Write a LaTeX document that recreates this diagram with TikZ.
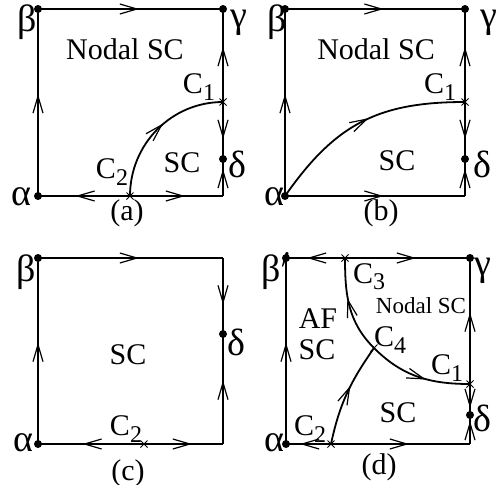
\documentclass[tikz,border=0pt]{standalone}
\usepackage{fontspec}
\setmainfont{Liberation Serif}
\usepackage{tikz}
\usetikzlibrary{arrows.meta, decorations.markings, shapes.misc}

\newcommand{\Cidx}[1]{C\raisebox{-0.45ex}{\fontsize{12}{12}\selectfont #1}}

\begin{document}
\begin{tikzpicture}[x=0.5pt, y=0.5pt, line width=0.9pt,
    dot/.style={circle, fill=black, inner sep=0pt, minimum size=4pt},
    xmark/.style={cross out, draw=black, inner sep=0pt, minimum size=3pt, line width=0.5pt},
    flow/.style={postaction={decorate}, decoration={markings, mark=at position 0.5 with {\arrow[xshift=4.25pt]{Straight Barb[length=8.5pt, width=5pt, line width=0.6pt]}}}},
    lab/.style={inner sep=0pt, font=\fontsize{15}{15}\selectfont},
    greek/.style={inner sep=0pt, font=\fontsize{19}{19}\selectfont},
    small/.style={inner sep=0pt, font=\fontsize{11.5}{11.5}\selectfont}]
    \useasboundingbox (0,0) rectangle (502,484);

    % (a)
    \node[dot] (alA) at (38,288) {};
    \node[dot] (beA) at (38,475) {};
    \node[dot] (gaA) at (223,475) {};
    \node[dot] (deA) at (223,325) {};
    \coordinate (brA) at (223,288);
    \node[xmark] (c1A) at (223,382) {};
    \node[xmark] (c2A) at (130,288) {};
    \draw[flow] (alA.center) -- (beA.center);
    \draw[flow] (beA.center) -- (gaA.center);
    \draw[flow] (c1A.center) -- (gaA.center);
    \draw[flow] (c1A.center) -- (deA.center);
    \draw[flow] (brA) -- (deA.center);
    \draw[flow] (c2A.center) -- (alA.center);
    \draw[flow] (c2A.center) -- (brA);
    \draw[flow] (c2A.center) to[out=90, in=180] (c1A.center);
    \node[greek] (tBeA) at (27,462) {β};
    \node[greek] (tGaA) at (239,461) {γ};
    \node[greek] (tAlA) at (21,287) {α};
    \node[greek] (tDeA) at (237,320) {δ};
    \node[lab] (tNodA) at (125,435) {Nodal SC};
    \node[lab] (tScA) at (182,321) {SC};
    \node[lab] (tC1A) at (199,397) {\Cidx{1}};
    \node[lab] (tC2A) at (112,312) {\Cidx{2}};
    \node[lab] (capA) at (127,271) {(a)};

    % (b)
    \begin{scope}[line width=1.3pt]
    \node[dot] (alB) at (285,288) {};
    \node[dot] (beB) at (285,475) {};
    \node[dot] (gaB) at (465,475) {};
    \node[dot] (deB) at (465,325) {};
    \coordinate (brB) at (465,288);
    \node[xmark] (c1B) at (465,382) {};
    \draw[flow] (alB.center) -- (beB.center);
    \draw[flow] (beB.center) -- (gaB.center);
    \draw[flow] (c1B.center) -- (gaB.center);
    \draw[flow] (c1B.center) -- (deB.center);
    \draw[flow] (brB) -- (deB.center);
    \draw[flow] (alB.center) -- (brB);
    \draw[flow, line width=0.9pt] (alB.center) to[out=55, in=180, looseness=1.1] (c1B.center);
    \end{scope}
    \node[greek] (tBeB) at (277,462) {β};
    \node[greek] (tGaB) at (489,461) {γ};
    \node[greek] (tAlB) at (274,287) {α};
    \node[greek] (tDeB) at (482,320) {δ};
    \node[lab] (tNodB) at (376,435) {Nodal SC};
    \node[lab] (tScB) at (397,323) {SC};
    \node[lab] (tC1B) at (440,397) {\Cidx{1}};
    \node[lab] (capB) at (381,271) {(b)};

    % (c)
    \node[dot] (alC) at (38,40) {};
    \node[dot] (beC) at (38,226) {};
    \node[dot] (deC) at (223,150) {};
    \coordinate (trC) at (223,226);
    \coordinate (brC) at (223,40);
    \node[xmark] (c2C) at (144,40) {};
    \draw[flow] (alC.center) -- (beC.center);
    \draw[flow] (beC.center) -- (trC);
    \draw[flow] (trC) -- (deC.center);
    \draw[flow] (brC) -- (deC.center);
    \draw[flow] (c2C.center) -- (alC.center);
    \draw[flow] (c2C.center) -- (brC);
    \node[greek] (tBeC) at (26,212) {β};
    \node[greek] (tAlC) at (23,41) {α};
    \node[greek] (tDeC) at (236,142) {δ};
    \node[lab] (tScC) at (128,129) {SC};
    \node[lab] (tC2C) at (126,55) {\Cidx{2}};
    \node[lab] (capC) at (128,11) {(c)};

    % (d)
    \node[dot] (alD) at (286,40) {};
    \node[dot] (beD) at (286,226) {};
    \node[dot] (gaD) at (470,226) {};
    \node[dot] (deD) at (470,69) {};
    \coordinate (brD) at (470,40);
    \node[xmark] (c1D) at (470,100) {};
    \node[xmark] (c2D) at (331,40) {};
    \node[xmark] (c3D) at (345,226) {};
    \node[xmark] (c4D) at (374,136) {};
    \draw[flow] (alD.center) -- (beD.center);
    \draw[flow] (c3D.center) -- (beD.center);
    \draw[flow] (c3D.center) -- (gaD.center);
    \draw[flow] (c1D.center) -- (gaD.center);
    \draw[flow] (c1D.center) -- (deD.center);
    \draw[flow] (brD) -- (deD.center);
    \draw[flow] (c2D.center) -- (alD.center);
    \draw[flow] (c2D.center) -- (brD);
    \draw[flow] (c4D.center) to[out=135, in=-90] (c3D.center);
    \draw[flow] (c4D.center) to[out=-45, in=180] (c1D.center);
    \draw[flow] (c2D.center) to[out=78, in=-125] (c4D.center);
    \node[greek] (tBeD) at (276,213) {β$'$};
    \node[greek] (tGaD) at (483,213) {γ};
    \node[greek] (tAlD) at (274,41) {α};
    \node[greek] (tDeD) at (482,66) {δ};
    \node[small] (tNodD) at (421,178) {Nodal SC};
    \node[lab] (tAfD) at (318,165) {AF};
    \node[lab] (tScD) at (317,134) {SC};
    \node[lab] (tSc2D) at (398,71) {SC};
    \node[lab] (tC1D) at (447,116) {\Cidx{1}};
    \node[lab] (tC2D) at (310,55) {\Cidx{2}};
    \node[lab] (tC3D) at (369,207) {\Cidx{3}};
    \node[lab] (tC4D) at (390,144) {\Cidx{4}};
    \node[lab] (capD) at (379,17) {(d)};
\end{tikzpicture}
\end{document}
